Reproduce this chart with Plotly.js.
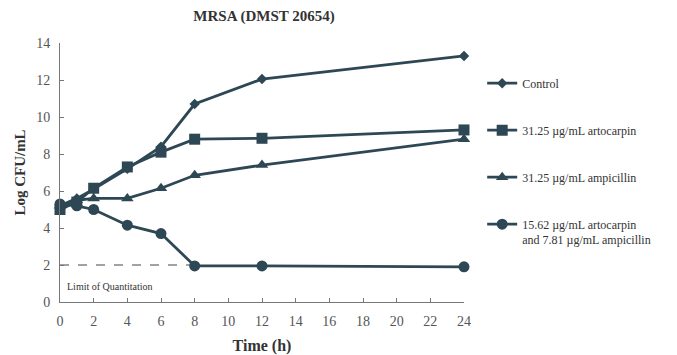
<!DOCTYPE html>
<html><head><meta charset="utf-8">
<script src="https://cdn.plot.ly/plotly-3.0.1.min.js"></script>
<style>body{margin:0;background:#fff}</style>
</head><body><div id="chart" style="width:677px;height:355px"></div>
<script>
const timeH = [0, 1, 2, 4, 6, 8, 12, 24];
const control = [5.2, 5.6, 6.1, 7.2, 8.4, 10.7, 12.05, 13.3];
const artocarpin = [5.0, 5.4, 6.15, 7.3, 8.1, 8.8, 8.85, 9.3];
const ampicillin = [5.2, 5.5, 5.6, 5.6, 6.15, 6.85, 7.4, 8.8];
const combo = [5.3, 5.2, 5.0, 4.15, 3.7, 1.95, 1.95, 1.9];
const seriesNames = ["Control", "31.25 µg/mL artocarpin", "31.25 µg/mL ampicillin", "15.62 µg/mL artocarpin<br>and 7.81 µg/mL ampicillin"];
const xTicks = [0, 2, 4, 6, 8, 10, 12, 14, 16, 18, 20, 22, 24];
const yTicks = [0, 2, 4, 6, 8, 10, 12, 14];
const limitY = 2;
const limitX = [0, 8];

const col = '#2d4854';
const serif = 'Liberation Serif, Times New Roman, serif';
const series = [control, artocarpin, ampicillin, combo];
const syms = ['diamond', 'square', 'triangle-up', 'circle'];
const sizes = [8, 11, 11, 11];
const traces = series.map((s, i) => ({
  x: timeH, y: s, name: seriesNames[i], type: 'scatter', mode: 'lines+markers',
  legendgroup: 'g' + i, cliponaxis: false,
  line: {color: col, width: 2.8},
  marker: {symbol: syms[i], size: sizes[i], color: col}
}));

const layout = {
  width: 677, height: 355,
  margin: {l: 60, r: 213, t: 43, b: 53},
  paper_bgcolor: '#fff', plot_bgcolor: '#fff',
  title: {text: '<b>MRSA (DMST 20654)</b>', x: 0.39, xanchor: 'center', y: 0.955, yanchor: 'middle',
          font: {family: serif, size: 15, color: '#333'}},
  xaxis: {range: [0, 24], tickvals: xTicks, ticks: 'inside', ticklen: 4, tickcolor: '#777',
          showline: true, linecolor: '#777', linewidth: 1, showgrid: false, zeroline: false,
          ticklabelstandoff: 6,
          tickfont: {family: serif, size: 14, color: '#555'},
          title: {text: '<b>Time (h)</b>', font: {family: serif, size: 16, color: '#333'}, standoff: 12}},
  yaxis: {range: [0, 14], tickvals: yTicks, ticks: 'inside', ticklen: 4, tickcolor: '#777',
          showline: true, linecolor: '#777', linewidth: 1, showgrid: false, zeroline: false,
          ticklabelstandoff: 6,
          tickfont: {family: serif, size: 14, color: '#555'},
          title: {text: '<b>Log CFU/mL</b>', font: {family: serif, size: 15, color: '#333'}, standoff: 6}},
  legend: {x: 1.045, y: 0.9, xanchor: 'left', yanchor: 'top', tracegroupgap: 28, valign: 'top',
           itemwidth: 30,
           font: {family: serif, size: 12, color: '#333'}, bgcolor: 'rgba(0,0,0,0)'},
  shapes: [{type: 'line', xref: 'x', yref: 'y', x0: limitX[0], x1: limitX[1], y0: limitY, y1: limitY,
            line: {color: '#444', width: 1, dash: 'dash'}, layer: 'below'}],
  annotations: [{xref: 'x', yref: 'y', x: 0.3, y: 0.85, xanchor: 'left', yanchor: 'middle', showarrow: false,
                 text: 'Limit of Quantitation', font: {family: serif, size: 10, color: '#333'}}]
};
Plotly.newPlot('chart', traces, layout, {displayModeBar: false, staticPlot: true});
</script></body></html>
